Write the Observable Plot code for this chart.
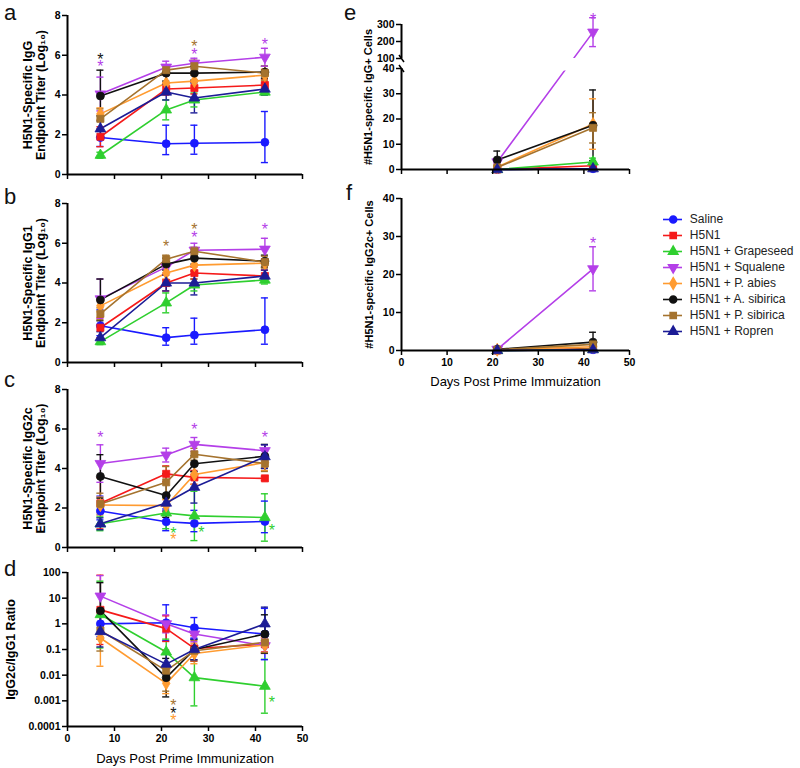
<!DOCTYPE html>
<html><head><meta charset="utf-8">
<script src="https://cdn.jsdelivr.net/npm/d3@7"></script>
<script src="https://cdn.jsdelivr.net/npm/@observablehq/plot@0.6"></script>
<style>
body{margin:0;background:#fff;}
#chart{position:relative;width:800px;height:768px;font-family:"Liberation Sans",Arial,sans-serif;overflow:hidden;}
.letter{position:absolute;font-size:22px;line-height:24px;color:#111;}
</style></head><body><div id="chart"></div>
<script>
// ---------- data ----------
const groups = ["Saline","H5N1","H5N1 + Grapeseed","H5N1 + Squalene","H5N1 + P. abies","H5N1 + A. sibirica","H5N1 + P. sibirica","H5N1 + Ropren"];
const colors = ["#1a1aff","#f51a1a","#2fcf2f","#b43fe8","#ff9b30","#111111","#a5732e","#1c1c96"];
const daysTiter = [7,21,27,42];
const daysCells = [21,42];
const xTicks = [0,10,20,30,40,50];
const yTicksTiter = [0,2,4,6,8];
const yTicksRatio = [0.0001,0.001,0.01,0.1,1,10,100];
const yTicksE = [0,10,20,30,40,100,200,300];
const yTicksF = [0,10,20,30,40];
const eBreaks = [40,100];

// a: IgG (log10 titer); error bars up / down
const iggMean = [[1.86,1.55,1.57,1.62],[1.9,4.3,4.35,4.5],[0.97,3.25,3.75,4.15],[4.05,5.4,5.6,5.9],[3.05,4.6,4.7,5.0],[3.95,5.1,5.1,5.15],[2.8,5.25,5.45,5.1],[2.3,4.15,3.85,4.3]];
const iggUp   = [[0.4,0.93,0.91,1.55],[0.5,0.3,0.3,0.3],[0.15,0.5,0.35,0.15],[0.85,0.3,0.25,0.45],[0.3,0.4,0.3,0.3],[1.3,0.4,0.35,0.3],[0.5,0.25,0.3,0.35],[0.4,0.4,0.75,0.3]];
const iggDown = [[0.45,0.55,0.55,1.02],[0.5,0.3,0.3,0.3],[0.15,0.5,0.35,0.15],[0.85,0.3,0.25,0.45],[0.3,0.4,0.3,0.3],[1.0,0.4,0.35,0.3],[0.5,0.25,0.3,0.35],[0.4,0.4,0.75,0.3]];
const starsA = [{day:7,value:5.95,g:5},{day:7,value:5.6,g:3},{day:27,value:6.6,g:6},{day:27,value:6.2,g:3},{day:42,value:6.7,g:3}];
// b: IgG1
const igg1Mean = [[1.85,1.25,1.38,1.65],[1.75,4.0,4.5,4.35],[1.05,3.0,3.9,4.15],[3.2,4.8,5.65,5.7],[2.85,4.5,4.9,5.0],[3.15,4.95,5.25,5.1],[2.45,5.2,5.6,5.05],[1.25,4.0,4.0,4.35]];
const igg1Up   = [[0.8,0.5,0.85,1.6],[0.5,0.4,0.3,0.3],[0.15,0.5,0.3,0.2],[1.0,0.3,0.35,0.55],[0.3,0.3,0.3,0.2],[1.05,0.3,0.3,0.3],[0.3,0.2,0.2,0.3],[0.3,0.4,0.6,0.3]];
const igg1Down = [[0.5,0.38,0.46,0.73],[0.5,0.4,0.3,0.3],[0.15,0.5,0.3,0.2],[1.0,0.3,0.35,0.55],[0.3,0.3,0.3,0.2],[1.05,0.3,0.3,0.3],[0.3,0.2,0.2,0.3],[0.3,0.4,0.6,0.3]];
const starsB = [{day:21,value:6.0,g:6},{day:27,value:6.85,g:6},{day:27,value:6.45,g:3},{day:42,value:6.85,g:3}];
// c: IgG2c
const igg2cMean = [[1.85,1.3,1.22,1.32],[2.24,3.73,3.55,3.5],[1.2,1.75,1.6,1.52],[4.25,4.68,5.22,4.9],[2.15,2.12,3.7,4.3],[3.6,2.63,4.24,4.62],[2.2,3.3,4.72,4.25],[1.2,2.25,3.05,4.6]];
const igg2cUp   = [[0.75,0.65,0.66,1.03],[1.3,0.4,0.35,0.1],[0.35,0.8,1.25,1.2],[0.95,0.35,0.35,0.3],[0.4,0.3,0.5,0.4],[1.1,1.1,0.4,0.6],[0.55,0.8,0.3,0.4],[0.3,0.4,0.8,0.6]];
const igg2cDown = [[0.45,0.45,0.42,0.57],[1.3,0.4,0.35,0.1],[0.35,0.8,1.25,1.2],[0.95,0.35,0.35,0.3],[0.4,0.3,0.5,0.4],[1.1,1.1,0.4,0.6],[0.55,0.8,0.3,0.4],[0.3,0.4,0.8,0.6]];
const starsC = [{day:7,value:5.75,g:3},{day:22.5,value:0.88,g:2},{day:22.5,value:0.6,g:4},{day:27,value:6.15,g:3},{day:28.5,value:0.93,g:2},{day:42,value:5.75,g:3},{day:43.5,value:1.05,g:2}];
// d: IgG2c/IgG1 ratio (error in log10 units)
const ratioMean = [[1.0,1.1,0.7,0.4],[3.5,0.65,0.11,0.16],[2.3,0.08,0.008,0.0037],[12,1.0,0.4,0.14],[0.28,0.0048,0.07,0.15],[3.2,0.008,0.1,0.4],[0.55,0.015,0.09,0.19],[0.5,0.027,0.1,1.0]];
const ratioErrLog = [[0.5,0.7,0.4,1.0],[1.35,0.5,0.5,0.3],[1.3,0.5,1.1,1.05],[0.8,0.35,0.3,0.3],[1.1,0.4,0.4,0.3],[1.1,0.75,0.4,0.75],[0.8,0.8,0.4,0.4],[0.6,0.4,0.4,0.65]];
const starsD = [{day:22.5,value:0.0009,g:6},{day:22.5,value:0.00045,g:5},{day:22.5,value:0.00024,g:4},{day:43.5,value:0.0012,g:2}];
// e: IgG+ cells
const cellsGMean = [[0,0.3],[0,1.5],[0,3.0],[3,255],[1,18],[3.8,17.5],[0.8,16.5],[0,0.3]];
const cellsGErr  = [[0.2,0.3],[0.2,1],[0.2,1.5],[0.5,85],[0.5,10],[3.5,14],[0.5,6],[0.2,0.3]];
const starsE = [{day:42,value:350,g:3}];
// f: IgG2c+ cells
const cellsG2Mean = [[0,0.2],[0,0.5],[0,0.3],[0.3,21.5],[0.2,1.0],[0.3,2.2],[0.2,1.6],[0,0.2]];
const cellsG2Err  = [[0.1,0.2],[0.1,0.3],[0.1,0.3],[0.2,5.8],[0.2,0.5],[0.3,2.6],[0.2,1.0],[0.1,0.2]];
const starsF = [{day:42,value:29,g:3}];

// ---------- helpers ----------
const FONT = '"Liberation Sans", Arial, sans-serif';
const colorOf = Object.fromEntries(groups.map((g,i)=>[g,colors[i]]));
const triDown = {draw(ctx,size){const y=-Math.sqrt(size/(Math.sqrt(3)*3));ctx.moveTo(0,-2*y);ctx.lineTo(-Math.sqrt(3)*y,y);ctx.lineTo(Math.sqrt(3)*y,y);ctx.closePath();}};
const slash = {draw(ctx,size){const r=Math.sqrt(size)/2;ctx.moveTo(-0.7*r,-r);ctx.lineTo(0.7*r,r);}};
const symbols = [d3.symbolCircle,d3.symbolSquare,d3.symbolTriangle,triDown,d3.symbolDiamond,d3.symbolCircle,d3.symbolSquare,d3.symbolTriangle];
const symbolOf = Object.fromEntries(groups.map((g,i)=>[g,symbols[i]]));

// broken axis for panel e: 0–40 linear, short gap, then 100–300 compressed
const eScale = v => v <= 40 ? v : v <= 100 ? 40 + (v - 40) * (3.96 / 60) : 43.96 + (v - 100) * 0.06733;

function tidy(means, up, down, days, mode){
  return groups.flatMap((g,gi)=>days.map((day,di)=>{
    const v=means[gi][di], eu=up[gi][di], ed=down[gi][di];
    if (mode === "log") return {group:g, day, value:v, lo:v/10**ed, hi:v*10**eu};
    return {group:g, day, value:v, lo:Math.max(0,v-ed), hi:v+eu};
  }));
}
const starRows = s => s.map(d=>({day:d.day, value:d.value, group:groups[d.g]}));

const chart = document.getElementById("chart");
function build(o){
  const col = d=>colorOf[d.group];
  const cap = 0.75;
  const marks = [
    Plot.line(o.data,{x:"day",y:"value",z:"group",stroke:col,strokeWidth:1.6}),
    ...(o.overLines||[]),
    Plot.ruleX(o.data,{x:"day",y1:"lo",y2:"hi",stroke:col,strokeWidth:1.4}),
    Plot.ruleY(o.data,{y:"hi",x1:d=>d.day-cap,x2:d=>d.day+cap,stroke:col,strokeWidth:1.4}),
    Plot.ruleY(o.data,{y:"lo",x1:d=>d.day-cap,x2:d=>d.day+cap,stroke:col,strokeWidth:1.4}),
    Plot.dot(o.data,{x:"day",y:"value",symbol:d=>symbolOf[d.group],fill:col,stroke:col,strokeWidth:0.8,r:4}),
    Plot.text(o.stars,{x:"day",y:"value",text:()=>"*",fill:col,fontSize:16,dy:4}),
    ...o.axisLines,
    Plot.axisY({ticks:o.yTicks,tickFormat:o.yFmt||(d=>String(d)),tickSize:5,tickPadding:2,strokeWidth:1.5,fontSize:10.5,fontWeight:"bold",label:null}),
    Plot.axisX({ticks:xTicks,tickFormat:o.xLabeled?(d=>String(d)):(()=>""),tickSize:5,tickPadding:3,strokeWidth:1.5,fontSize:10.5,fontWeight:"bold",label:null}),
    Plot.text([o.yTitle],{text:d=>d,frameAnchor:"left",dx:o.yTitleDx,rotate:-90,textAnchor:"middle",lineAnchor:"middle",lineHeight:1.05,fontSize:o.yTitleSize,fontWeight:"bold"})
  ];
  if (o.xTitle) marks.push(Plot.text([o.xTitle],{text:d=>d,frameAnchor:"bottom",dy:o.xTitleDy,textAnchor:"middle",lineAnchor:"middle",fontSize:13}));
  const svg = Plot.plot({
    width:o.width,height:o.height,marginLeft:o.ml,marginRight:o.mr,marginTop:o.mt,marginBottom:o.mb,
    x:{domain:[0,50]},y:o.y,
    style:{fontFamily:FONT,background:"transparent",overflow:"visible",color:"#000"},
    marks
  });
  svg.style.position="absolute";svg.style.left=o.left+"px";svg.style.top=o.top+"px";
  chart.append(svg);
}
const stdAxes = y0 => [Plot.ruleX([0],{strokeWidth:2}),Plot.ruleY([y0],{strokeWidth:2})];

// a
build({left:0,top:0,width:320,height:190,ml:67,mr:18,mt:15,mb:16,y:{domain:[0,8]},yTicks:yTicksTiter,
  data:tidy(iggMean,iggUp,iggDown,daysTiter),stars:starRows(starsA),axisLines:stdAxes(0),
  yTitle:"H5N1-Specific IgG\nEndpoint Titer (Log\u2081\u2080)",yTitleDx:-33.5,yTitleSize:12.5});
// b
build({left:0,top:188,width:320,height:190,ml:67,mr:18,mt:15,mb:16,y:{domain:[0,8]},yTicks:yTicksTiter,
  data:tidy(igg1Mean,igg1Up,igg1Down,daysTiter),stars:starRows(starsB),axisLines:stdAxes(0),
  yTitle:"H5N1-Specific IgG1\nEndpoint Titer (Log\u2081\u2080)",yTitleDx:-33.5,yTitleSize:12.5});
// c
build({left:0,top:374,width:320,height:189,ml:67,mr:18,mt:15,mb:16,y:{domain:[0,8]},yTicks:yTicksTiter,
  data:tidy(igg2cMean,igg2cUp,igg2cDown,daysTiter),stars:starRows(starsC),axisLines:stdAxes(0),
  yTitle:"H5N1-Specific IgG2c\nEndpoint Titer (Log\u2081\u2080)",yTitleDx:-33.5,yTitleSize:12.5});
// d
build({left:0,top:557,width:320,height:211,ml:67,mr:18,mt:15,mb:42,y:{type:"log",domain:[0.0001,100]},yTicks:yTicksRatio,
  data:tidy(ratioMean,ratioErrLog,ratioErrLog,daysTiter,"log"),stars:starRows(starsD),axisLines:stdAxes(0.0001),xLabeled:true,
  xTitle:"Days Post Prime Immunization",xTitleDy:32,
  yTitle:"IgG2c/IgG1 Ratio",yTitleDx:-57,yTitleSize:12.5});
// e (broken y axis, values mapped through eScale)
const eData = tidy(cellsGMean,cellsGErr,cellsGErr,daysCells).map(d=>({...d,value:eScale(d.value),lo:eScale(d.lo),hi:eScale(d.hi)}));
const eTickPos = yTicksE.map(eScale);
build({left:340,top:0,width:310,height:185,ml:61,mr:21,mt:24,mb:16,
  y:{domain:[0,eScale(300)]},yTicks:eTickPos,yFmt:t=>String(yTicksE[eTickPos.indexOf(t)]),
  data:eData,stars:starRows(starsE).map(d=>({...d,value:eScale(d.value)})),
  overLines:[Plot.rect([0],{x1:28,x2:40,y1:eScale(39),y2:eScale(100),fill:"white"})],
  axisLines:[Plot.ruleX([[0,40],[100,300]],{x:0,y1:d=>eScale(d[0]),y2:d=>eScale(d[1]),strokeWidth:2}),Plot.ruleY([0],{strokeWidth:2}),
    Plot.dot(eBreaks,{x:0,y:d=>eScale(d),symbol:slash,stroke:"#000",fill:"none",strokeWidth:1.5,r:4})],
  yTitle:"#H5N1-specific IgG+ Cells",yTitleDx:-33,yTitleSize:11});
// f
build({left:340,top:183,width:310,height:212,ml:61,mr:21,mt:15,mb:45,y:{domain:[0,40]},yTicks:yTicksF,
  data:tidy(cellsG2Mean,cellsG2Err,cellsG2Err,daysCells),stars:starRows(starsF),axisLines:stdAxes(0),xLabeled:true,
  xTitle:"Days Post Prime Immuization",xTitleDy:31,
  yTitle:"#H5N1-specific IgG2c+ Cells",yTitleDx:-32,yTitleSize:11});

// legend
const legend = Plot.plot({
  width:150,height:160,margin:0,
  x:{domain:[0,150],range:[0,150],axis:null},
  y:{type:"point",domain:groups,range:[13.3,147.3],axis:null},
  style:{fontFamily:FONT,background:"transparent",overflow:"visible",color:"#222"},
  marks:[
    Plot.ruleY(groups,{y:d=>d,x1:13,x2:32,stroke:d=>colorOf[d],strokeWidth:1.6}),
    Plot.dot(groups,{x:22.7,y:d=>d,symbol:d=>symbolOf[d],fill:d=>colorOf[d],stroke:d=>colorOf[d],r:3.5}),
    Plot.text(groups,{x:39.3,y:d=>d,text:d=>d,textAnchor:"start",fontSize:12,fill:"#222"})
  ]
});
legend.style.position="absolute";legend.style.left="650px";legend.style.top="195px";
chart.append(legend);

// panel letters
[["a",4,1],["b",4,185],["c",4,368],["d",4,557],["e",344,1],["f",346,181]].forEach(([t,l,tp])=>{
  const d=document.createElement("div");d.className="letter";d.textContent=t;d.style.left=l+"px";d.style.top=tp+"px";chart.append(d);
});
</script></body></html>
